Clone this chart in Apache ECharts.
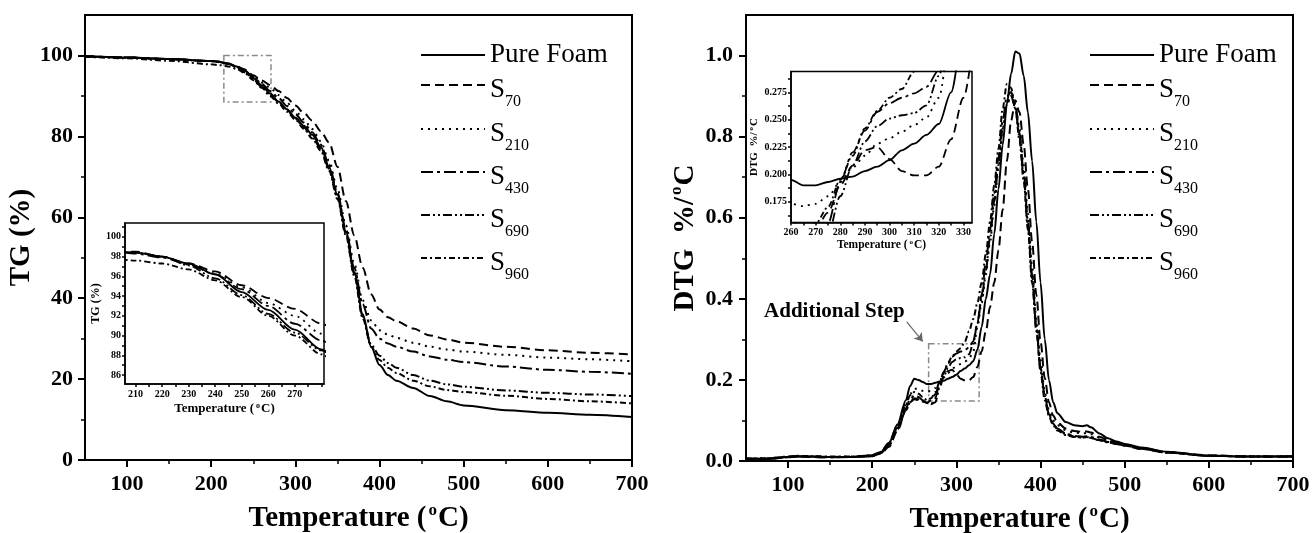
<!DOCTYPE html>
<html>
<head>
<meta charset="utf-8">
<title>TG / DTG</title>
<script src="https://cdn.jsdelivr.net/npm/echarts@6/dist/echarts.min.js"></script>
<style>
  html, body { margin: 0; padding: 0; background: #fff; }
  #chart { width: 1312px; height: 533px; }
</style>
</head>
<body>
<div id="chart"></div>
<script>
// ---- data ----
const seriesNames = ["Pure Foam", "S70", "S210", "S430", "S690", "S960"];

// TG (%) vs temperature
const tgTemps = [50, 100, 150, 200, 210, 220, 230, 240, 250, 260, 270, 280, 290, 300, 310, 320, 330, 340,
  350, 360, 370, 380, 390, 400, 410, 420, 440, 460, 480, 500, 550, 600, 650, 700];
const tgPure = [99.8, 99.5, 99.1, 98.6, 98.4, 98.0, 97.3, 96.2, 94.4, 92.6, 90.6, 88.6, 86.7, 84.6, 82.6, 80.4, 77.5, 72.5,
  65.5, 56.5, 46.5, 36.0, 28.0, 23.5, 21.0, 19.6, 17.8, 15.8, 14.5, 13.5, 12.3, 11.7, 11.2, 10.6];
const tgS70 = [99.8, 99.5, 99.1, 98.6, 98.5, 98.0, 97.3, 96.5, 95.1, 93.8, 92.7, 91.2, 89.5, 87.6, 85.8, 83.9, 81.3, 78.5,
  72.5, 64.0, 55.5, 47.5, 41.0, 37.2, 35.3, 34.3, 32.5, 30.8, 29.8, 29.0, 28.0, 27.1, 26.5, 26.1];
const tgS210 = [99.8, 99.5, 99.1, 98.6, 98.4, 98.0, 97.2, 96.3, 94.9, 93.3, 92.0, 90.2, 88.3, 86.3, 84.2, 81.8, 78.8, 74.0,
  67.0, 58.0, 48.5, 39.5, 34.5, 32.1, 31.0, 30.2, 29.0, 28.0, 27.3, 26.8, 26.0, 25.3, 24.9, 24.4];
const tgS430 = [99.8, 99.5, 99.1, 98.6, 98.3, 97.9, 97.2, 96.2, 94.7, 93.0, 91.2, 89.5, 87.5, 85.5, 83.4, 81.0, 78.0, 73.0,
  66.0, 57.0, 47.5, 38.5, 32.5, 30.0, 28.8, 28.0, 26.8, 25.6, 24.8, 24.2, 23.1, 22.3, 21.8, 21.3];
const tgS690 = [99.8, 99.5, 99.1, 98.6, 98.4, 98.0, 97.1, 95.8, 94.1, 92.2, 90.3, 88.5, 86.5, 84.4, 82.2, 79.8, 77.0, 72.0,
  65.0, 56.0, 46.0, 35.5, 28.5, 25.8, 24.0, 22.8, 21.0, 19.6, 18.7, 18.1, 17.2, 16.6, 16.2, 15.8];
const tgS960 = [99.7, 99.3, 98.7, 97.8, 97.6, 97.3, 96.7, 95.6, 93.9, 92.0, 90.0, 88.1, 86.1, 84.1, 81.9, 79.5, 76.5, 71.5,
  64.5, 55.5, 45.5, 35.0, 28.0, 24.7, 22.8, 21.5, 19.6, 18.2, 17.3, 16.8, 15.9, 15.1, 14.5, 14.0];

// DTG (%/oC) vs temperature
const dtgTemps = [50, 75, 100, 110, 125, 150, 175, 200, 210, 220, 230, 240,
  245, 250, 255, 260, 265, 270, 275, 280, 285, 290, 295, 300, 305, 310, 315, 320, 325, 330, 335, 340,
  345, 350, 355, 360, 365, 370, 375, 380, 385, 390, 395, 400, 405, 410, 415, 420,
  430, 440, 450, 455, 460, 470, 480, 490, 500, 520, 550, 600, 650, 700];
const dtgPure = [0.005, 0.006, 0.010, 0.012, 0.011, 0.010, 0.010, 0.014, 0.022, 0.045, 0.090, 0.150,
  0.185, 0.203, 0.200, 0.195, 0.190, 0.190, 0.193, 0.196, 0.198, 0.203, 0.207, 0.213, 0.222, 0.228, 0.236, 0.246, 0.275, 0.330, 0.400, 0.460,
  0.560, 0.670, 0.780, 0.880, 0.955, 1.010, 1.005, 0.950, 0.860, 0.740, 0.590, 0.440, 0.300, 0.200, 0.145, 0.118,
  0.096, 0.088, 0.086, 0.088, 0.083, 0.068, 0.056, 0.048, 0.042, 0.033, 0.023, 0.013, 0.011, 0.012];
const dtgS70 = [0.006, 0.005, 0.009, 0.011, 0.010, 0.009, 0.010, 0.012, 0.018, 0.035, 0.075, 0.125,
  0.145, 0.152, 0.150, 0.147, 0.144, 0.150, 0.165, 0.190, 0.208, 0.222, 0.225, 0.214, 0.203, 0.199, 0.199, 0.207, 0.232, 0.270, 0.320, 0.380,
  0.440, 0.520, 0.620, 0.740, 0.840, 0.890, 0.860, 0.780, 0.670, 0.540, 0.410, 0.295, 0.205, 0.145, 0.112, 0.095,
  0.080, 0.074, 0.072, 0.073, 0.070, 0.060, 0.052, 0.046, 0.040, 0.032, 0.022, 0.014, 0.011, 0.010];
const dtgS210 = [0.005, 0.007, 0.010, 0.012, 0.011, 0.010, 0.011, 0.013, 0.020, 0.042, 0.085, 0.140,
  0.165, 0.178, 0.178, 0.173, 0.171, 0.173, 0.180, 0.193, 0.206, 0.217, 0.228, 0.233, 0.239, 0.245, 0.252, 0.270, 0.330, 0.390, 0.460, 0.540,
  0.630, 0.720, 0.820, 0.880, 0.900, 0.880, 0.820, 0.730, 0.610, 0.480, 0.350, 0.250, 0.170, 0.125, 0.100, 0.088,
  0.076, 0.070, 0.068, 0.069, 0.066, 0.058, 0.050, 0.045, 0.040, 0.031, 0.021, 0.013, 0.011, 0.011];
const dtgS430 = [0.004, 0.006, 0.009, 0.011, 0.010, 0.009, 0.010, 0.012, 0.020, 0.040, 0.082, 0.130,
  0.152, 0.162, 0.158, 0.150, 0.143, 0.140, 0.155, 0.193, 0.220, 0.240, 0.257, 0.265, 0.270, 0.274, 0.280, 0.295, 0.340, 0.410, 0.490, 0.570,
  0.660, 0.750, 0.840, 0.900, 0.910, 0.880, 0.810, 0.710, 0.590, 0.460, 0.330, 0.230, 0.160, 0.115, 0.092, 0.080,
  0.068, 0.062, 0.060, 0.061, 0.059, 0.053, 0.047, 0.043, 0.038, 0.030, 0.021, 0.013, 0.011, 0.011];
const dtgS690 = [0.005, 0.005, 0.010, 0.012, 0.011, 0.010, 0.010, 0.012, 0.019, 0.038, 0.078, 0.125,
  0.145, 0.155, 0.152, 0.147, 0.143, 0.141, 0.145, 0.180, 0.208, 0.230, 0.244, 0.251, 0.254, 0.256, 0.263, 0.290, 0.340, 0.400, 0.470, 0.550,
  0.640, 0.730, 0.820, 0.880, 0.900, 0.870, 0.800, 0.700, 0.580, 0.450, 0.330, 0.230, 0.160, 0.115, 0.092, 0.078,
  0.066, 0.060, 0.058, 0.059, 0.057, 0.051, 0.046, 0.042, 0.038, 0.030, 0.021, 0.013, 0.011, 0.011];
const dtgS960 = [0.006, 0.006, 0.011, 0.013, 0.012, 0.011, 0.011, 0.014, 0.022, 0.045, 0.088, 0.140,
  0.162, 0.170, 0.166, 0.158, 0.150, 0.155, 0.170, 0.195, 0.217, 0.242, 0.258, 0.270, 0.278, 0.294, 0.320, 0.350, 0.390, 0.440, 0.510, 0.590,
  0.680, 0.770, 0.870, 0.930, 0.920, 0.870, 0.790, 0.690, 0.570, 0.440, 0.320, 0.220, 0.150, 0.110, 0.088, 0.075,
  0.064, 0.059, 0.058, 0.059, 0.057, 0.051, 0.046, 0.042, 0.038, 0.030, 0.021, 0.013, 0.011, 0.011];

// tick labels / tick positions
const tempLabels = [100, 200, 300, 400, 500, 600, 700];
const tempMinor = [150, 250, 350, 450, 550, 650];
const tgLabels = [0, 20, 40, 60, 80, 100];
const tgMinor = [10, 30, 50, 70, 90];
const dtgLabels = [0.0, 0.2, 0.4, 0.6, 0.8, 1.0];
const dtgMinor = [0.1, 0.3, 0.5, 0.7, 0.9];
const tgInsetXLabels = [210, 220, 230, 240, 250, 260, 270];
const tgInsetXTicks = [210, 215, 220, 225, 230, 235, 240, 245, 250, 255, 260, 265, 270, 275, 280];
const tgInsetYLabels = [86, 88, 90, 92, 94, 96, 98, 100];
const tgInsetYTicks = [86, 87, 88, 89, 90, 91, 92, 93, 94, 95, 96, 97, 98, 99, 100, 101];
const dtgInsetXLabels = [260, 270, 280, 290, 300, 310, 320, 330];
const dtgInsetXTicks = [260, 265, 270, 275, 280, 285, 290, 295, 300, 305, 310, 315, 320, 325, 330];
const dtgInsetYLabels = [0.175, 0.2, 0.225, 0.25, 0.275];
const dtgInsetYTicks = [0.1625, 0.175, 0.1875, 0.2, 0.2125, 0.225, 0.2375, 0.25, 0.2625, 0.275, 0.2875];

// annotations (data coordinates)
const tgZoomBox = [[215, 100], [271, 88.5]];
const dtgZoomBox = [[267, 0.289], [327, 0.148]];
const stepArrow = [[241, 0.343], [260, 0.295]];
const stepNoteAt = [155, 0.368];

// ---- styling ----
const FONT = "'Liberation Serif', 'Times New Roman', Times, serif";
const INK = "#000";
const dashes = ["solid", [9, 5], [2, 5], [12, 4, 3, 4], [9, 3, 2, 3, 2, 3], [6, 3, 2, 3]];
const tgValues = [tgPure, tgS70, tgS210, tgS430, tgS690, tgS960];
const dtgValues = [dtgPure, dtgS70, dtgS210, dtgS430, dtgS690, dtgS960];

const zip = (xs, ys) => xs.map((x, i) => [x, ys[i]]);

// bold title with a raised "o" (degree sign as in the figure)
const titleStyle = (size, supSize) => ({
  color: INK, fontFamily: FONT, fontWeight: "bold", fontSize: size,
  rich: {
    t: { color: INK, fontFamily: FONT, fontWeight: "bold", fontSize: size, lineHeight: size + 5 },
    sup: { color: INK, fontFamily: FONT, fontWeight: "bold", fontSize: supSize, lineHeight: supSize,
      padding: [0, 1, Math.round(size * 0.55), 2] },
  },
});

// one value axis; o.labels / o.ticks are custom value lists
function axis(o) {
  const lw = o.lw || 2;
  return {
    type: "value", gridIndex: o.grid, min: o.min, max: o.max, position: o.position,
    axisLine: { show: o.line !== false, onZero: false, lineStyle: { color: INK, width: lw } },
    axisTick: o.ticks
      ? { show: true, inside: false, length: o.tickLen || 7, customValues: o.ticks, lineStyle: { color: INK, width: lw } }
      : { show: false },
    axisLabel: o.labels
      ? { show: true, customValues: o.labels, margin: o.margin, color: INK, fontFamily: FONT,
          fontWeight: "bold", fontSize: o.fontSize, formatter: o.fmt }
      : { show: false },
    splitLine: { show: false },
    name: o.name, nameLocation: "middle", nameGap: o.nameGap, nameTextStyle: o.nameStyle,
  };
}

const grids = [
  { left: 85, top: 15, width: 547, height: 445, show: true, borderColor: INK, borderWidth: 2 },
  { left: 85, top: 15, width: 547, height: 445 },
  { left: 125, top: 223, width: 199, height: 161, show: true, borderColor: INK, borderWidth: 1.5, backgroundColor: "#fff" },
  { left: 746, top: 15, width: 547, height: 446, show: true, borderColor: INK, borderWidth: 2 },
  { left: 746, top: 15, width: 547, height: 446 },
  { left: 791, top: 71.5, width: 181, height: 151, show: true, borderColor: INK, borderWidth: 1.5, backgroundColor: "#fff" },
].map((g) => Object.assign({ outerBoundsMode: "none", containLabel: false }, g));

const tempName = "{t|Temperature (}{sup|o}{t|C)}";
const xAxes = [
  axis({ grid: 0, min: 50, max: 700, ticks: tempLabels, labels: tempLabels, fontSize: 22, margin: 13,
    name: tempName, nameGap: 42, nameStyle: titleStyle(29, 17) }),
  axis({ grid: 1, min: 50, max: 700, line: false, ticks: tempMinor, tickLen: 4, lw: 1.5 }),
  axis({ grid: 2, min: 206, max: 281, ticks: tgInsetXTicks, labels: tgInsetXLabels, tickLen: 3, lw: 1.5,
    fontSize: 10, margin: 5, name: tempName, nameGap: 16, nameStyle: titleStyle(13, 8) }),
  axis({ grid: 3, min: 50, max: 700, ticks: tempLabels, labels: tempLabels, fontSize: 22, margin: 13,
    name: tempName, nameGap: 42, nameStyle: titleStyle(29, 17) }),
  axis({ grid: 4, min: 50, max: 700, line: false, ticks: tempMinor, tickLen: 4, lw: 1.5 }),
  axis({ grid: 5, min: 260, max: 333.5, ticks: dtgInsetXTicks, labels: dtgInsetXLabels, tickLen: 3, lw: 1.5,
    fontSize: 10, margin: 5, name: tempName, nameGap: 14, nameStyle: titleStyle(11.5, 7) }),
];
const yAxes = [
  axis({ grid: 0, min: 0, max: 110, ticks: tgLabels, labels: tgLabels, fontSize: 22, margin: 12,
    name: "TG (%)", nameGap: 44, nameStyle: titleStyle(29, 17) }),
  axis({ grid: 1, min: 0, max: 110, line: false, ticks: tgMinor, tickLen: 4, lw: 1.5 }),
  axis({ grid: 2, min: 85.1, max: 101.4, ticks: tgInsetYTicks, labels: tgInsetYLabels, tickLen: 3, lw: 1.5,
    fontSize: 10, margin: 4, name: "TG (%)", nameGap: 19, nameStyle: titleStyle(12, 7) }),
  axis({ grid: 3, min: 0, max: 1.1, ticks: dtgLabels, labels: dtgLabels, fontSize: 22, margin: 13,
    fmt: (v) => v.toFixed(1), name: "{t|DTG  %/}{sup|o}{t|C}", nameGap: 43, nameStyle: titleStyle(29, 17) }),
  axis({ grid: 4, min: 0, max: 1.1, line: false, ticks: dtgMinor, tickLen: 4, lw: 1.5 }),
  axis({ grid: 5, min: 0.156, max: 0.294, ticks: dtgInsetYTicks, labels: dtgInsetYLabels, tickLen: 3, lw: 1.5,
    fontSize: 10, margin: 4, fmt: (v) => v.toFixed(3), name: "{t|DTG  %/}{sup|o}{t|C}", nameGap: 26,
    nameStyle: titleStyle(11, 7) }),
];

function lineSeries(name, i, xs, ys, axisIndex, width) {
  return {
    type: "line", name, xAxisIndex: axisIndex, yAxisIndex: axisIndex,
    data: zip(xs, ys), symbol: "none", showSymbol: false, smooth: 0.3, smoothMonotone: "x",
    silent: true, clip: true,
    lineStyle: { color: INK, width, type: dashes[i] },
    itemStyle: { color: INK },
  };
}

const series = [];
seriesNames.forEach((name, i) => {
  series.push(lineSeries(name, i, tgTemps, tgValues[i], 0, 2));
  series.push(lineSeries(name, i, tgTemps, tgValues[i], 2, 1.8));
  series.push(lineSeries(name, i, dtgTemps, dtgValues[i], 3, 2));
  series.push(lineSeries(name, i, dtgTemps, dtgValues[i], 5, 1.8));
});

// zoom box on the TG panel
series[0].markArea = {
  silent: true,
  itemStyle: { color: "rgba(0,0,0,0)", borderColor: "#8a8a8a", borderWidth: 1.5, borderType: [6, 3, 2, 3] },
  data: [[{ coord: tgZoomBox[0] }, { coord: tgZoomBox[1] }]],
};
// zoom box, arrow and note on the DTG panel
series[2].markArea = {
  silent: true,
  itemStyle: { color: "rgba(0,0,0,0)", borderColor: "#8a8a8a", borderWidth: 1.5, borderType: [6, 3, 2, 3] },
  data: [[{ coord: dtgZoomBox[0] }, { coord: dtgZoomBox[1] }]],
};
series[2].markLine = {
  silent: true, symbol: ["none", "arrow"], symbolSize: 8,
  lineStyle: { color: "#666", width: 1.2, type: "solid" },
  label: { show: false },
  data: [[{ coord: stepArrow[0] }, { coord: stepArrow[1] }]],
};
series[2].markPoint = {
  silent: true, symbol: "circle", symbolSize: 1,
  itemStyle: { color: "rgba(0,0,0,0)" },
  label: { show: true, position: "inside", formatter: "Additional Step", color: INK,
    fontFamily: FONT, fontWeight: "bold", fontSize: 21 },
  data: [{ coord: stepNoteAt }],
};

// one legend per row so rows sit where the figure has them
const legendRows = [55, 91, 135, 178, 221, 264];
const legendLefts = [420, 1089];
const legends = [];
legendLefts.forEach((left) => {
  seriesNames.forEach((name, i) => {
    legends.push({
      left, top: legendRows[i] - (i === 0 ? 15 : 21), padding: 0,
      itemWidth: 64, itemHeight: 12, itemGap: 0, selectedMode: false,
      data: [name],
      lineStyle: { width: 2 },
      itemStyle: { opacity: 0 },
      formatter: (nm) => (nm === "Pure Foam" ? nm : "{s|S}{sub|" + nm.slice(1) + "}"),
      textStyle: {
        color: INK, fontFamily: FONT, fontSize: 27, lineHeight: 30,
        rich: {
          s: { color: INK, fontFamily: FONT, fontSize: 27, lineHeight: 30, padding: [6, 0, 0, 0], verticalAlign: "top" },
          sub: { color: INK, fontFamily: FONT, fontSize: 16, lineHeight: 18, padding: [24, 0, 0, 0], verticalAlign: "top" },
        },
      },
    });
  });
});

const chart = echarts.init(document.getElementById("chart"), null, { renderer: "canvas" });
chart.setOption({
  backgroundColor: "#fff",
  animation: false,
  grid: grids,
  xAxis: xAxes,
  yAxis: yAxes,
  legend: legends,
  series,
});
</script>
</body>
</html>
